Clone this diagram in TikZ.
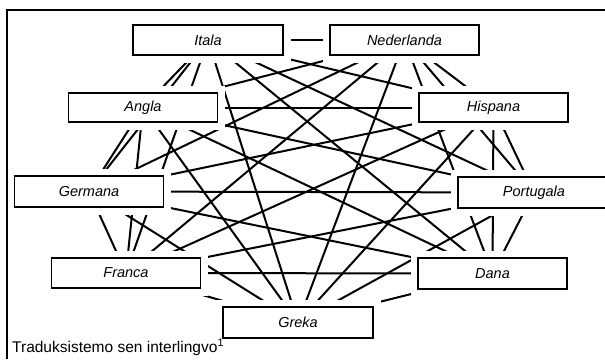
\documentclass[tikz,border=0pt]{standalone}
\usepackage{fontspec}
\setmainfont{Liberation Sans}
\pgfdeclarelayer{background}
\pgfsetlayers{background,main}
\tikzset{
  lingvo/.style={draw, fill=white, line width=1.6pt, minimum width=149pt, minimum height=30pt, inner sep=0pt,
    preaction={draw=white, line width=15pt}, font=\fontsize{14.5}{16}\selectfont\itshape},
  ligo/.style={line width=2pt}
}
\begin{document}
\begin{tikzpicture}[x=1pt, y=-1pt]
\useasboundingbox (0,0) rectangle (605,359);
% la naux lingvoj
\node[lingvo, minimum width=150pt] (itala) at (208,40) {Itala};
\node[lingvo] (nederlanda) at (404.5,40) {Nederlanda};
\node[lingvo, minimum height=29pt] (angla) at (143,107.5) {Angla};
\node[lingvo, minimum height=29pt] (hispana) at (493.5,107.5) {Hispana};
\node[lingvo, minimum height=31pt] (germana) at (89,191.5) {Germana};
\node[lingvo, minimum width=152pt, minimum height=31pt] (portugala) at (534,192.5) {Portugala};
\node[lingvo] (franca) at (126,273) {Franca};
\node[lingvo, minimum height=31pt] (dana) at (492.5,273.5) {Dana};
\node[lingvo, minimum width=150pt, minimum height=31pt] (greka) at (298,322.5) {Greka};
\node[anchor=base west, inner sep=0pt, font=\fontsize{15.5}{18}\selectfont] (titolo) at (12,352) {Traduksistemo sen interlingvo\textsuperscript{1}};
\draw[line width=1.8pt] (7,359) -- (7,10) -- (605,10);
% cxiu kun cxiu, malantaux la skatoloj
\begin{pgfonlayer}{background}
\draw[ligo] (itala) -- (nederlanda);
\draw[ligo] (itala) -- (angla);
\draw[ligo] (itala) -- (hispana);
\draw[ligo] (itala) -- (germana);
\draw[ligo] (itala) -- (portugala);
\draw[ligo] (itala) -- (franca);
\draw[ligo] (itala) -- (dana);
\draw[ligo] (itala) -- (greka);
\draw[ligo] (nederlanda) -- (angla);
\draw[ligo] (nederlanda) -- (hispana);
\draw[ligo] (nederlanda) -- (germana);
\draw[ligo] (nederlanda) -- (portugala);
\draw[ligo] (nederlanda) -- (franca);
\draw[ligo] (nederlanda) -- (dana);
\draw[ligo] (nederlanda) -- (greka);
\draw[ligo] (angla) -- (hispana);
\draw[ligo] (angla) -- (germana);
\draw[ligo] (angla) -- (portugala);
\draw[ligo] (angla) -- (franca);
\draw[ligo] (angla) -- (dana);
\draw[ligo] (angla) -- (greka);
\draw[ligo] (hispana) -- (germana);
\draw[ligo] (hispana) -- (portugala);
\draw[ligo] (hispana) -- (franca);
\draw[ligo] (hispana) -- (dana);
\draw[ligo] (hispana) -- (greka);
\draw[ligo] (germana) -- (portugala);
\draw[ligo] (germana) -- (franca);
\draw[ligo] (germana) -- (dana);
\draw[ligo] (germana) -- (greka);
\draw[ligo] (portugala) -- (franca);
\draw[ligo] (portugala) -- (dana);
\draw[ligo] (portugala) -- (greka);
\draw[ligo] (franca) -- (dana);
\draw[ligo] (franca) -- (greka);
\draw[ligo] (dana) -- (greka);
\end{pgfonlayer}
\end{tikzpicture}
\end{document}
